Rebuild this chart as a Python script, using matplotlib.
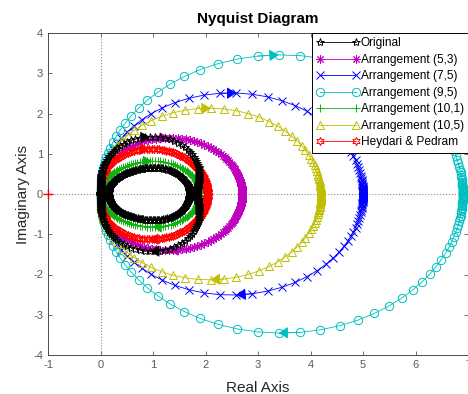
import numpy as np
import matplotlib
matplotlib.use('Agg')
import matplotlib.pyplot as plt

plt.rcParams['font.family'] = ['Liberation Sans', 'DejaVu Sans']
plt.rcParams['axes.unicode_minus'] = False

# transfer function coefficients, highest power of s first
orig_num = [1.415, 1.84]
orig_den = [1.0, 1.3, 1.0]
orig_inner_num = [0.0375, 0.9625, 1.70]
orig_inner_den = [0.25, 1.25, 1.0]
arr53_num = [1.08, 2.7]
arr53_den = [1.0, 2.5, 1.0]
arr75_num = [1.25, 5.0]
arr75_den = [1.0, 4.0, 1.0]
arr95_num = [1.38, 6.9]
arr95_den = [1.0, 5.0, 1.0]
arr101_num = [1.04, 1.89]
arr101_den = [0.3, 1.3, 1.0]
arr105_num = [1.4, 4.2]
arr105_den = [1.0, 3.0, 1.0]
hp_num = [1.02, 2.04]
hp_den = [1.0, 2.0, 1.0]

# frequency sweeps: log10(w_min), log10(w_max), number of points
orig_w = (-2.5, 2.5, 260)
orig_inner_w = (-2.0, 2.5, 230)
arr53_w = (-3.0, 2.0, 200)
arr75_w = (-3.0, 1.5, 85)
arr95_w = (-3.0, 1.5, 90)
arr101_w = (-2.0, 2.5, 150)
arr105_w = (-2.5, 2.0, 90)
hp_w = (-2.0, 2.5, 260)

labels = ['Original', 'Arrangement (5,3)', 'Arrangement (7,5)',
          'Arrangement (9,5)', 'Arrangement (10,1)', 'Arrangement (10,5)',
          'Heydari & Pedram']


def freq_resp(num, den, wspec):
    w = np.logspace(wspec[0], wspec[1], wspec[2])
    s = 1j * w
    return np.polyval(num, s) / np.polyval(den, s)


def nyq(ax, num, den, wspec, color, marker, label, ms=6, z=2, arrows=True):
    g = freq_resp(num, den, wspec)
    # negative frequencies (mirror image) then positive ones
    pts = np.concatenate([np.conj(g[::-1]), g])
    ax.plot(pts.real, pts.imag, '-', color=color, marker=marker, ms=ms,
            mfc='none', mew=0.7, lw=0.6, label=label, zorder=z)
    if not arrows:
        return
    # direction arrows at the lowest / highest point of each branch
    i = int(np.argmin(g.imag))
    ap = dict(arrowstyle='-|>,head_length=0.45,head_width=0.28', color=color,
              lw=0.6, shrinkA=0, shrinkB=0, mutation_scale=13)
    ax.annotate('', xy=(g[i].real, g[i].imag),
                xytext=(g[i - 1].real, g[i - 1].imag), arrowprops=ap, zorder=z)
    ax.annotate('', xy=(g[i].real, -g[i].imag),
                xytext=(g[i + 1].real, -g[i + 1].imag), arrowprops=ap, zorder=z)


fig = plt.figure(figsize=(4.68, 3.94), dpi=100)
ax = fig.add_axes([48 / 468, 39 / 394, 420 / 468, 322 / 394])

ax.axhline(0, color='0.55', ls=':', lw=0.8, zorder=0)
ax.axvline(0, color='0.55', ls=':', lw=0.8, zorder=0)

nyq(ax, orig_num, orig_den, orig_w, 'k', '*', labels[0], z=3)
nyq(ax, orig_inner_num, orig_inner_den, orig_inner_w, 'k', '*',
    '_nolegend_', z=3, arrows=False)
nyq(ax, arr53_num, arr53_den, arr53_w, 'm', (8, 2, 0), labels[1])
nyq(ax, arr75_num, arr75_den, arr75_w, 'b', 'x', labels[2])
nyq(ax, arr95_num, arr95_den, arr95_w, 'c', 'o', labels[3])
nyq(ax, arr101_num, arr101_den, arr101_w, '#10b010', '+', labels[4])
nyq(ax, arr105_num, arr105_den, arr105_w, 'y', '^', labels[5])
nyq(ax, hp_num, hp_den, hp_w, 'r', (6, 1, 0), labels[6])

ax.plot(-1, 0, '+', color='r', ms=7, mew=1.0, clip_on=False, zorder=5)

ax.set_xlim(-1, 7)
ax.set_ylim(-4, 4)
ax.set_xticks(range(-1, 8))
ax.set_yticks(range(-4, 5))
ax.tick_params(direction='in', length=3, width=0.6, top=True, right=True,
               labelsize=8, colors='0.35')
for sp in ax.spines.values():
    sp.set_color('0.3')
    sp.set_linewidth(0.7)

ax.set_title('Nyquist Diagram', fontsize=11, fontweight='bold', pad=7)
ax.set_xlabel('Real Axis', fontsize=11, color='0.15', labelpad=8)
ax.set_ylabel('Imaginary Axis', fontsize=11, color='0.15', labelpad=2)

leg = ax.legend(loc='upper right', fontsize=8.6, numpoints=2,
                handlelength=3.6, handletextpad=0.1, borderpad=0.35,
                labelspacing=0.38, borderaxespad=0, fancybox=False,
                framealpha=1, edgecolor='k')
leg.get_frame().set_linewidth(0.7)
leg.set_zorder(6)

fig.savefig('out.png', dpi=100)
